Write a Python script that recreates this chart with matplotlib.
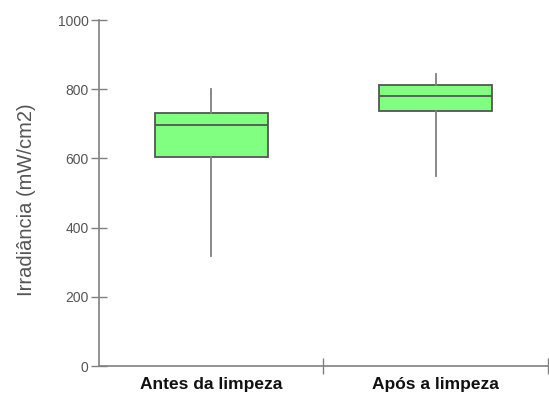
import matplotlib
matplotlib.use("Agg")
import matplotlib.pyplot as plt

categories = ["Antes da limpeza", "Após a limpeza"]
whisker_low = [318, 549]
q1 = [604, 738]
median = [698, 780]
q3 = [730, 812]
whisker_high = [802, 844]
y_ticks = [0, 200, 400, 600, 800, 1000]

plt.rcParams['font.family'] = ['Liberation Sans', 'DejaVu Sans']

fig = plt.figure(figsize=(5.49, 3.93), dpi=100)
ax = fig.add_axes([0.1803, 0.0687, 0.8177, 0.8803])

stats = []
for i, c in enumerate(categories):
    stats.append(dict(label=c, whislo=whisker_low[i], q1=q1[i], med=median[i],
                      q3=q3[i], whishi=whisker_high[i], fliers=[]))

positions = [0.5, 1.5]
ax.bxp(stats, positions=positions, widths=0.503, patch_artist=True,
       showcaps=False, showfliers=False,
       boxprops=dict(facecolor="#80ff80", edgecolor="#555555", linewidth=1.3),
       medianprops=dict(color="#555555", linewidth=1.3),
       whiskerprops=dict(color="#7f7f7f", linewidth=1.3))

ax.set_xlim(0, 2)
ax.set_ylim(0, 1000)

for s in ["top", "right"]:
    ax.spines[s].set_visible(False)
for s in ["left", "bottom"]:
    ax.spines[s].set_color("#808080")
    ax.spines[s].set_linewidth(1.2)

ax.set_yticks(y_ticks)
ax.set_yticklabels([str(v) for v in y_ticks], color="#555555", fontsize=10)
ax.tick_params(axis="y", direction="inout", length=12, width=1.0, color="#808080", pad=1.5)

ax.set_xticks([1, 2])
ax.set_xticklabels([])
ax.set_xticks(positions, minor=True)
ax.set_xticklabels(categories, minor=True, fontsize=12.5, fontweight="bold", color="#111111")
ax.tick_params(axis="x", which="major", direction="inout", length=11, width=1.0, color="#808080")
ax.tick_params(axis="x", which="minor", length=0, pad=8)

ax.set_ylabel("Irradiância (mW/cm2)", fontsize=14.5, color="#555555")
ax.yaxis.set_label_coords(-0.14, 0.48)

fig.savefig("out.png", dpi=100, facecolor="white")
